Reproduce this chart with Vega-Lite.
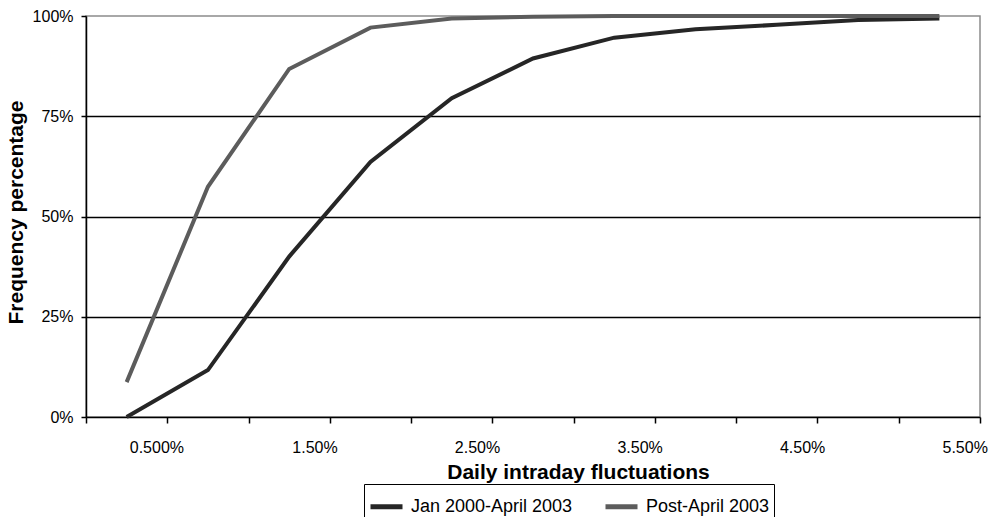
{
  "$schema": "https://vega.github.io/schema/vega-lite/v6.json",
  "width": 894,
  "height": 401,
  "autosize": {"type": "none"},
  "padding": {"left": 86, "top": 16, "right": 23, "bottom": 100},
  "background": "white",
  "config": {
    "view": {"stroke": "#8c8c8c", "strokeWidth": 1.5},
    "font": "Liberation Sans"
  },
  "data": {
    "values": [
      {"fluct": 0.25, "period": "Jan 2000-April 2003", "freq": 0.0},
      {"fluct": 0.75, "period": "Jan 2000-April 2003", "freq": 0.117},
      {"fluct": 1.25, "period": "Jan 2000-April 2003", "freq": 0.40},
      {"fluct": 1.75, "period": "Jan 2000-April 2003", "freq": 0.636},
      {"fluct": 2.25, "period": "Jan 2000-April 2003", "freq": 0.795},
      {"fluct": 2.75, "period": "Jan 2000-April 2003", "freq": 0.894},
      {"fluct": 3.25, "period": "Jan 2000-April 2003", "freq": 0.946},
      {"fluct": 3.75, "period": "Jan 2000-April 2003", "freq": 0.967},
      {"fluct": 4.25, "period": "Jan 2000-April 2003", "freq": 0.978},
      {"fluct": 4.75, "period": "Jan 2000-April 2003", "freq": 0.990},
      {"fluct": 5.25, "period": "Jan 2000-April 2003", "freq": 0.994},
      {"fluct": 0.25, "period": "Post-April 2003", "freq": 0.087},
      {"fluct": 0.75, "period": "Post-April 2003", "freq": 0.574},
      {"fluct": 1.25, "period": "Post-April 2003", "freq": 0.868},
      {"fluct": 1.75, "period": "Post-April 2003", "freq": 0.971},
      {"fluct": 2.25, "period": "Post-April 2003", "freq": 0.994},
      {"fluct": 2.75, "period": "Post-April 2003", "freq": 0.998},
      {"fluct": 3.25, "period": "Post-April 2003", "freq": 1.0},
      {"fluct": 3.75, "period": "Post-April 2003", "freq": 1.0},
      {"fluct": 4.25, "period": "Post-April 2003", "freq": 1.0},
      {"fluct": 4.75, "period": "Post-April 2003", "freq": 1.0},
      {"fluct": 5.25, "period": "Post-April 2003", "freq": 1.0}
    ]
  },
  "mark": {"type": "line", "strokeWidth": 4},
  "encoding": {
    "x": {
      "field": "fluct",
      "type": "quantitative",
      "scale": {"domain": [0, 5.5], "nice": false, "zero": false},
      "axis": {
        "values": [0, 0.5, 1, 1.5, 2, 2.5, 3, 3.5, 4, 4.5, 5, 5.5],
        "title": "Daily intraday fluctuations",
        "grid": false,
        "domainColor": "black",
        "domainWidth": 1.5,
        "tickColor": "black",
        "tickWidth": 1.5,
        "tickSize": 6,
        "labelExpr": "datum.value == 0.5 ? '0.500%' : ((datum.value * 2) % 2 == 1 ? format(datum.value, '.2f') + '%' : '')",
        "labelAlign": "left",
        "labelOffset": -38,
        "labelBaseline": "alphabetic",
        "labelPadding": 29,
        "labelFontSize": 16,
        "labelColor": "black",
        "labelFont": "Liberation Sans",
        "labelFlush": false,
        "labelOverlap": false,
        "titleFont": "Liberation Sans",
        "titleFontSize": 21,
        "titleFontWeight": "bold",
        "titleColor": "black",
        "titleX": 492,
        "titleY": 61,
        "titleBaseline": "alphabetic",
        "titleAlign": "center"
      }
    },
    "y": {
      "field": "freq",
      "type": "quantitative",
      "scale": {"domain": [0, 1], "nice": false},
      "axis": {
        "values": [0, 0.25, 0.5, 0.75, 1],
        "format": ".0%",
        "title": "Frequency percentage",
        "grid": true,
        "gridColor": {"condition": {"test": "datum.value === 1 || datum.value === 0", "value": "transparent"}, "value": "black"},
        "gridWidth": 1.5,
        "domainColor": "black",
        "domainWidth": 1.5,
        "tickColor": "black",
        "tickWidth": 1.5,
        "tickSize": 5,
        "labelPadding": 8,
        "labelFontSize": 16,
        "labelColor": "black",
        "labelFont": "Liberation Sans",
        "labelFlush": false,
        "titleFont": "Liberation Sans",
        "titleFontSize": 21,
        "titleFontWeight": "bold",
        "titleColor": "black",
        "titleAngle": -90,
        "titleX": -70,
        "titleY": 196,
        "titleBaseline": "middle",
        "titleAlign": "center"
      }
    },
    "color": {
      "field": "period",
      "type": "nominal",
      "scale": {"domain": ["Jan 2000-April 2003", "Post-April 2003"], "range": ["#262626", "#5c5c5c"]},
      "legend": {
        "orient": "none",
        "legendX": 278,
        "legendY": 468,
        "direction": "horizontal",
        "title": null,
        "symbolType": "stroke",
        "symbolSize": 1024,
        "symbolStrokeWidth": 5,
        "labelFontSize": 18,
        "labelLimit": 400,
        "labelColor": "black",
        "labelFont": "Liberation Sans",
        "strokeColor": "black",
        "fillColor": "white",
        "padding": 4,
        "labelOffset": 6,
        "columnPadding": 22
      }
    }
  }
}
